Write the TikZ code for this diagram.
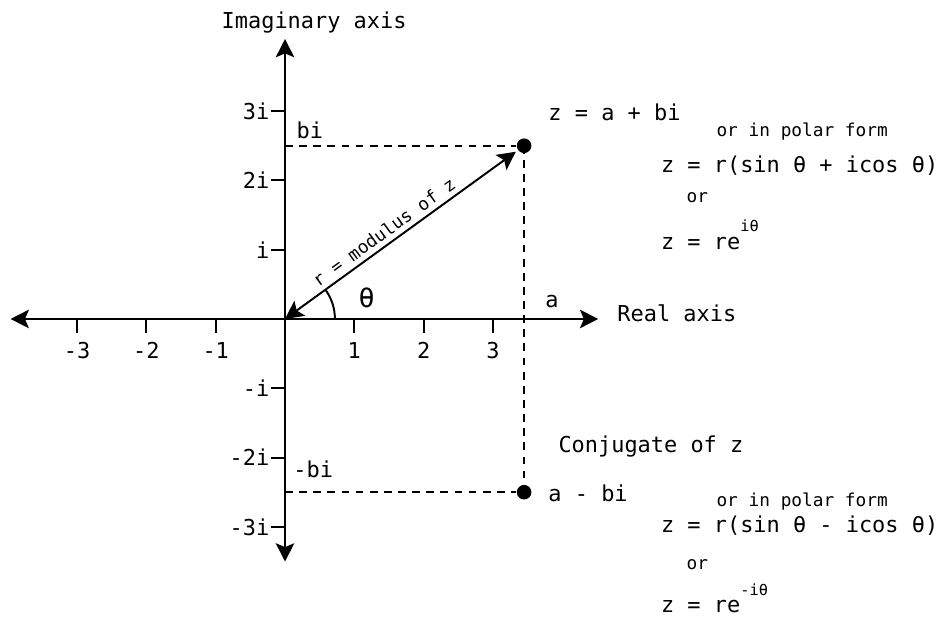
\documentclass[tikz,border=0pt]{standalone}
\usepackage{fontspec}
\setmainfont{DejaVu Sans Mono}
\usetikzlibrary{arrows.meta}
\tikzset{
  tipshape/.tip={Stealth[length=7.5pt,width=7.6pt,inset=1.6pt]},
  axisline/.style={line width=0.8pt,-tipshape},
  tickline/.style={line width=0.8pt},
  guide/.style={line width=0.75pt,dash pattern=on 3.2pt off 2.6pt},
  lbl/.style={font=\fontsize{9}{11}\selectfont,inner sep=0pt},
  small/.style={font=\fontsize{7.3}{9}\selectfont,inner sep=0pt},
  dotnode/.style={circle,fill=black,inner sep=0pt,minimum size=6pt}
}
\newcommand{\supx}[1]{\raisebox{0.8em}{\fontsize{6.3}{7}\selectfont #1}}
\begin{document}
\begin{tikzpicture}[x=1cm,y=1cm]
\useasboundingbox (-4.113,-4.329) rectangle (9.466,4.603);
% origin and end points
\coordinate (O) at (0,0);
\coordinate (xl) at (-3.96,0);
\coordinate (xr) at (4.52,0);
\coordinate (yt) at (0,4.04);
\coordinate (yb) at (0,-3.50);
\draw[axisline] (O) -- (xr);
\draw[axisline] (O) -- (xl);
\draw[axisline] (O) -- (yt);
\draw[axisline] (O) -- (yb);
% ticks
\foreach \k in {-3,-2,-1,1,2,3}{
  \draw[tickline] (\k,0) -- (\k,-0.2);
  \node[lbl] (tx\k) at (\k,-0.45) {\k};
  \draw[tickline] (-0.2,\k) -- (0,\k);
}
\node[lbl,anchor=east] (ty3) at (-0.22,3) {3i};
\node[lbl,anchor=east] (ty2) at (-0.22,2) {2i};
\node[lbl,anchor=east] (ty1) at (-0.22,1) {i};
\node[lbl,anchor=east] (tym1) at (-0.22,-1) {-i};
\node[lbl,anchor=east] (tym2) at (-0.22,-2) {-2i};
\node[lbl,anchor=east] (tym3) at (-0.22,-3) {-3i};
% axis titles
\node[lbl,anchor=base] (imag) at (0.42,4.185) {Imaginary axis};
\node[lbl,anchor=base west] (real) at (4.79,-0.03) {Real axis};
% points
\node[dotnode] (z) at (3.45,2.5) {};
\node[dotnode] (zc) at (3.45,-2.5) {};
\coordinate (bi) at (0,2.5);
\coordinate (mbi) at (0,-2.5);
\draw[guide] (bi) -- (z);
\draw[guide] (z.center) -- (zc.center);
\draw[guide] (mbi) -- (zc);
% modulus arrow
\draw[line width=0.8pt,tipshape-tipshape,shorten >=1pt] (O) -- (z);
\node[small,rotate=35.9,anchor=south,inner sep=1.5pt] (mod) at (1.52,1.13) {r = modulus of z};
% angle
\draw[line width=0.8pt] (0.72,0) arc (0:35.9:0.72);
\node[lbl,font=\fontsize{11}{12}\selectfont] (th) at (1.18,0.31) {θ};
% labels
\node[lbl,anchor=base west] (bil) at (0.16,2.61) {bi};
\node[lbl,anchor=base west] (mbil) at (0.115,-2.29) {-bi};
\node[lbl,anchor=base west] (al) at (3.75,0.17) {a};
% upper block
\node[lbl,anchor=base west] (zeq) at (3.795,2.87) {z = a + bi};
\node[small,anchor=base west] (p1) at (6.22,2.63) {or in polar form};
\node[lbl,anchor=base west] (z1) at (5.42,2.107) {z = r(sin θ + icos θ)};
\node[small,anchor=base west] (or1) at (5.79,1.674) {or};
\node[lbl,anchor=base west] (z2) at (5.42,1.003) {z = re\supx{iθ}};
% lower block
\node[lbl,anchor=base west] (conj) at (3.94,-1.92) {Conjugate of z};
\node[lbl,anchor=base west] (amb) at (3.795,-2.64) {a - bi};
\node[small,anchor=base west] (p2) at (6.22,-2.713) {or in polar form};
\node[lbl,anchor=base west] (z3) at (5.42,-3.088) {z = r(sin θ - icos θ)};
\node[small,anchor=base west] (or2) at (5.79,-3.622) {or};
\node[lbl,anchor=base west] (z4) at (5.42,-4.24) {z = re\supx{-iθ}};
\end{tikzpicture}
\end{document}
